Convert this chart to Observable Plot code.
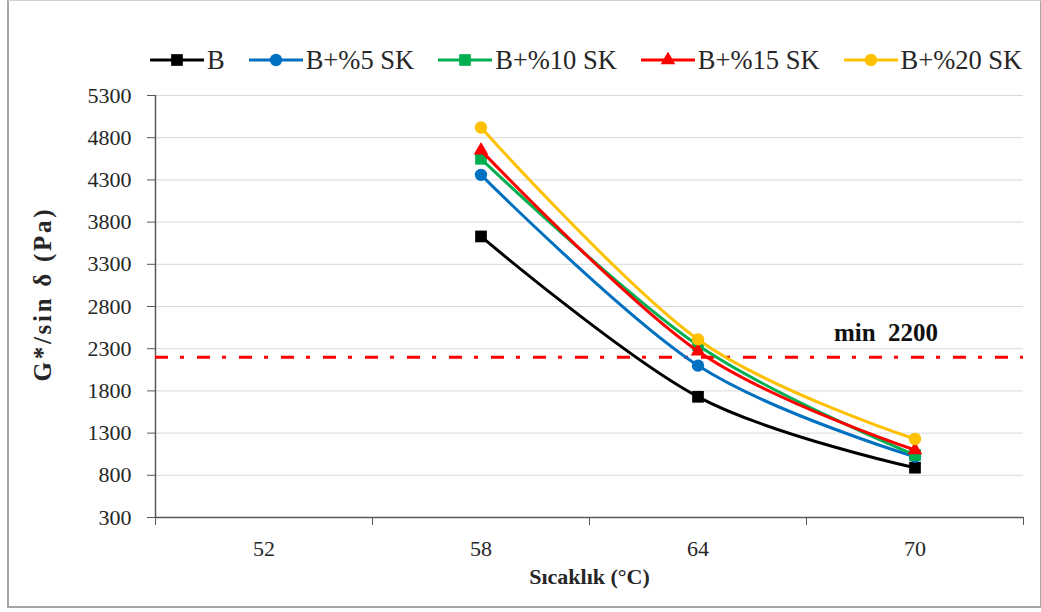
<!DOCTYPE html>
<html>
<head>
<meta charset="utf-8">
<script src="https://cdn.jsdelivr.net/npm/d3@7"></script>
<script src="https://cdn.jsdelivr.net/npm/@observablehq/plot@0.6"></script>
<style>
  html, body { margin: 0; padding: 0; background: #fff; }
  #wrap { position: relative; width: 1041px; height: 612px; font-family: "Liberation Serif", "Times New Roman", serif; }
  #border { position: absolute; left: 7px; top: 0; width: 1031px; height: 605px;
            border: 2px solid #a6a6a6; border-top: 1px solid #d0d0d0; box-sizing: content-box; pointer-events: none; }
  #legend { position: absolute; left: 150px; top: 44px; height: 32px; display: flex; align-items: center; gap: 24px;
            font-size: 26.5px; color: #262626; white-space: nowrap; }
  .item { display: flex; align-items: center; gap: 3px; }
  .item svg { display: block; }
  #chart { position: absolute; left: 0; top: 0; }
</style>
</head>
<body>
<div id="wrap">
  <div id="chart"></div>
  <div id="legend"></div>
  <div id="border"></div>
</div>
<script>
// Test temperatures (°C) and the axis categories
const temps = [58, 64, 70];
const tempLabels = [52, 58, 64, 70];
const tempBounds = [49, 55, 61, 67, 73];
const yTicks = [300, 800, 1300, 1800, 2300, 2800, 3300, 3800, 4300, 4800, 5300];

// Series names and G*/sin δ values (Pa) at 58, 64, 70 °C
const seriesNames = ["B", "B+%5 SK", "B+%10 SK", "B+%15 SK", "B+%20 SK"];
const valuesB   = [3630, 1730, 890];
const values5   = [4360, 2100, 1020];
const values10  = [4550, 2340, 1040];
const values15  = [4650, 2270, 1100];
const values20  = [4920, 2410, 1230];
const seriesColors  = ["#000000", "#0070C0", "#00B050", "#FF0000", "#FFC000"];
const seriesSymbols = ["square", "circle", "square", "triangle", "circle"];
const symbolRadius  = [6.6, 6.2, 6.6, 5.4, 6.2];

// Specification limit
const minLimit = 2200;
const minLabel = "min \u00A02200";

const seriesValues = [valuesB, values5, values10, values15, values20];
const rows = seriesNames.flatMap((name, i) =>
  temps.map((t, j) => ({ series: name, temp: t, value: seriesValues[i][j] })));

const seriesMarks = seriesNames.flatMap((name, i) => {
  const d = rows.filter(r => r.series === name);
  return [
    Plot.line(d, { x: "temp", y: "value", curve: "cardinal", stroke: seriesColors[i], strokeWidth: 3 }),
    Plot.dot(d, { x: "temp", y: "value", symbol: seriesSymbols[i], fill: seriesColors[i], stroke: "none", r: symbolRadius[i] })
  ];
});

const chart = Plot.plot({
  width: 1041,
  height: 612,
  marginLeft: 155,
  marginRight: 18,
  marginTop: 95,
  marginBottom: 95,
  x: { domain: [tempBounds[0], tempBounds[tempBounds.length - 1]] },
  y: { domain: [yTicks[0], yTicks[yTicks.length - 1]] },
  style: { fontFamily: "'Liberation Serif', 'Times New Roman', serif", fontSize: "22px", color: "#262626", background: "transparent" },
  marks: [
    Plot.gridY(yTicks, { stroke: "#d9d9d9", strokeOpacity: 1, strokeWidth: 1 }),
    Plot.axisY(yTicks, { tickSize: 8, tickPadding: 16, stroke: "#595959", tickFormat: d => String(d), fontSize: 22, label: null }),
    Plot.ruleX([tempBounds[0]], { stroke: "#595959", strokeWidth: 1.5 }),
    Plot.ruleY([yTicks[0]], { stroke: "#595959", strokeWidth: 1.5 }),
    Plot.axisX(tempBounds, { tickSize: 8, stroke: "#595959", tickFormat: () => "", label: null }),
    Plot.axisX(tempLabels, { tickSize: 0, tickPadding: 23, tickFormat: d => String(d), fontSize: 22, label: null }),
    Plot.ruleY([minLimit], { stroke: "#FF0000", strokeWidth: 3, strokeDasharray: "13,12,4,13" }),
    Plot.text([minLabel], { x: temps[2], y: minLimit, dx: -29, dy: -24, fontWeight: "bold", fontSize: 25, fill: "#111" }),
    Plot.text(["G*/sin δ (Pa)"], { frameAnchor: "left", textAnchor: "middle", dx: -113, dy: -11, rotate: -90, fontWeight: "bold", fontSize: 25, fill: "#262626", className: "ytitle" }),
    Plot.text(["Sıcaklık (°C)"], { frameAnchor: "bottom", dy: 66, fontWeight: "bold", fontSize: 22, fill: "#262626" }),
    ...seriesMarks
  ]
});
// The vertical title is set as a slightly letter-spaced run
d3.select(chart).selectAll(".ytitle text").attr("textLength", 172).attr("lengthAdjust", "spacing");
document.getElementById("chart").appendChild(chart);

// Legend: line sample with marker, then series name
const legend = d3.select("#legend");
seriesNames.forEach((name, i) => {
  const item = legend.append("div").attr("class", "item");
  const svg = item.append("svg").attr("width", 54).attr("height", 16);
  svg.append("line").attr("x1", 0).attr("x2", 54).attr("y1", 8).attr("y2", 8)
    .attr("stroke", seriesColors[i]).attr("stroke-width", 3);
  const sym = { square: d3.symbolSquare, circle: d3.symbolCircle, triangle: d3.symbolTriangle }[seriesSymbols[i]];
  svg.append("path").attr("transform", "translate(27,8)")
    .attr("d", d3.symbol(sym, Math.PI * symbolRadius[i] ** 2)())
    .attr("fill", seriesColors[i]);
  item.append("span").text(name);
});
</script>
</body>
</html>
